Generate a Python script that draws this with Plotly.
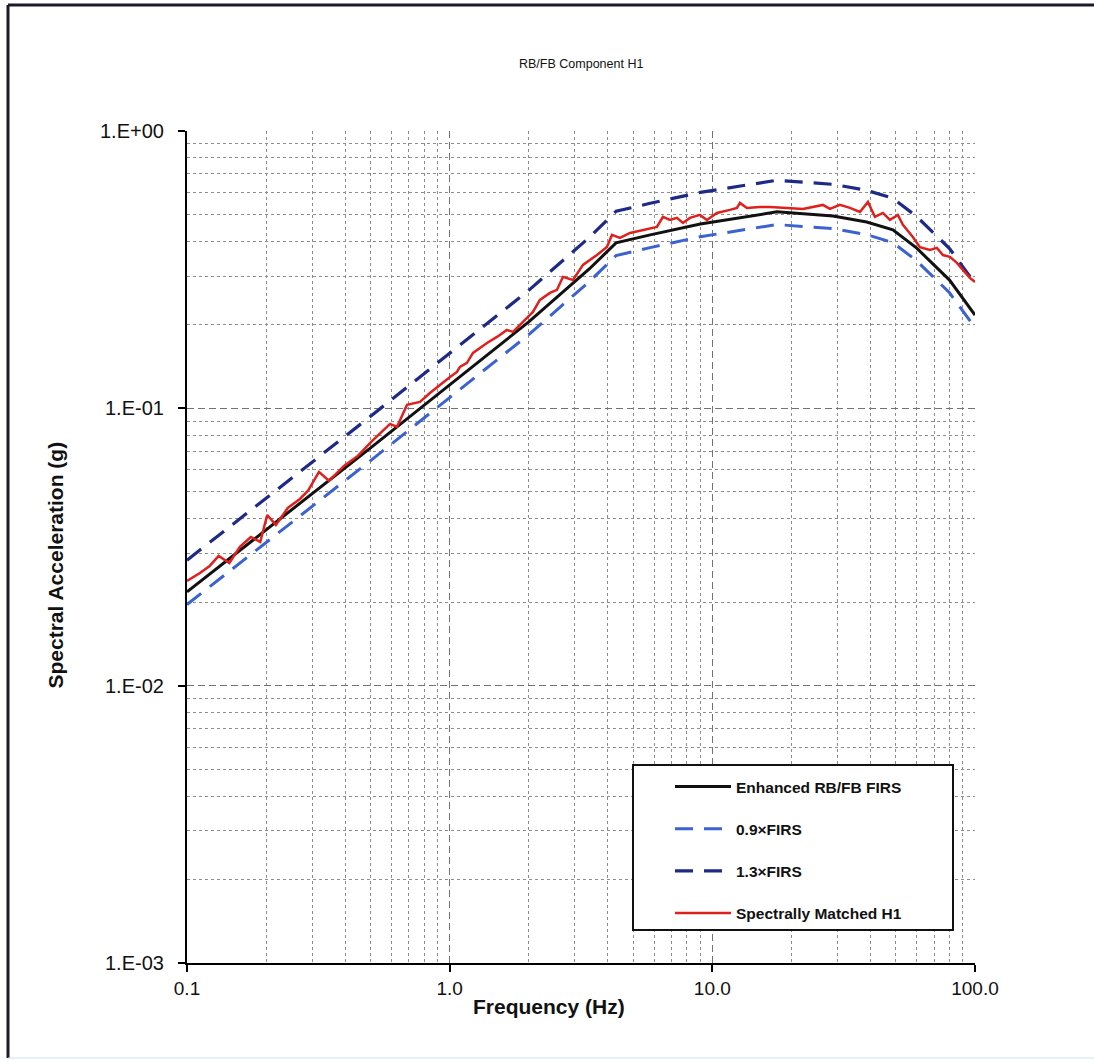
import math
import plotly.graph_objects as go

# Enhanced RB/FB FIRS (g) vs frequency (Hz)
firs_freq = [0.1, 0.2, 0.3, 0.5, 1.0, 2.0, 3.4, 4.3, 5.8, 9.0, 17.6, 28.8,
             38.7, 48.7, 60.0, 80.0, 100.0]
firs_sa = [0.0218, 0.0364, 0.0491, 0.0720, 0.1215, 0.2049, 0.318, 0.395,
           0.422, 0.462, 0.511, 0.494, 0.470, 0.440, 0.378, 0.290, 0.217]

# Spectrally matched H1 response spectrum
h1_freq = [0.100, 0.112, 0.122, 0.132, 0.145, 0.159, 0.175, 0.190, 0.202,
           0.218, 0.242, 0.269, 0.289, 0.318, 0.347, 0.396, 0.448, 0.506,
           0.593, 0.630, 0.688, 0.771, 0.841, 0.895, 0.943, 1.003, 1.066,
           1.094, 1.164, 1.227, 1.387, 1.514, 1.652, 1.742, 1.969, 2.075,
           2.206, 2.409, 2.561, 2.699, 2.948, 3.217, 3.637, 3.970, 4.148,
           4.450, 4.859, 5.444, 6.153, 6.486, 6.896, 7.332, 7.728, 8.216,
           8.972, 9.537, 10.41, 11.67, 12.41, 12.74, 13.54, 15.18, 16.57,
           19.23, 22.13, 26.36, 28.03, 30.60, 33.41, 36.47, 39.12, 41.59,
           44.61, 47.44, 50.87, 53.15, 58.00, 61.71, 67.35, 71.61, 75.47,
           80.24, 85.33, 89.94, 95.63, 100.0]
h1_sa = [0.02385, 0.02549, 0.02702, 0.02935, 0.02770, 0.03164, 0.03437,
         0.03298, 0.04126, 0.03798, 0.04373, 0.04713, 0.0505, 0.0590,
         0.0548, 0.0620, 0.0675, 0.0762, 0.08785, 0.08569, 0.1029,
         0.1055, 0.1136, 0.1194, 0.1235, 0.1298, 0.1353, 0.1410, 0.1458,
         0.1584, 0.1721, 0.1809, 0.1917, 0.1886, 0.2118, 0.2226, 0.2459,
         0.2607, 0.2673, 0.2978, 0.2904, 0.3289, 0.3574, 0.3819, 0.4219,
         0.4115, 0.4290, 0.4398, 0.4510, 0.4900, 0.4780, 0.4860, 0.4662,
         0.4860, 0.4982, 0.4780, 0.5065, 0.5194, 0.5281, 0.5504, 0.5281,
         0.5325, 0.5325, 0.5281, 0.5237, 0.5414, 0.5237, 0.5414, 0.5281,
         0.5108, 0.5550, 0.4900, 0.5065, 0.4780, 0.4982, 0.4585, 0.4150,
         0.3810, 0.3725, 0.3789, 0.3570, 0.3516, 0.3345, 0.3156, 0.2953,
         0.2857]

lower_factor = 0.9
upper_factor = 1.3

x_tickvals = [0.1, 1.0, 10.0, 100.0]
x_ticktext = ["0.1", "1.0", "10.0", "100.0"]
y_tickvals = [0.001, 0.01, 0.1, 1.0]
y_ticktext = ["1.E-03", "1.E-02", "1.E-01", "1.E+00"]

minor_x = [m * 10.0 ** e for e in range(-1, 2) for m in range(2, 10)]
minor_y = [m * 10.0 ** e for e in range(-3, 0) for m in range(2, 10)]

FONT = "Liberation Sans, Arial, sans-serif"

fig = go.Figure()
fig.add_trace(go.Scatter(
    x=firs_freq, y=firs_sa, mode="lines", name="Enhanced RB/FB FIRS",
    legendgroup="a", line=dict(color="#111111", width=3)))
fig.add_trace(go.Scatter(
    x=firs_freq, y=[lower_factor * v for v in firs_sa], mode="lines",
    name="0.9\u00d7FIRS", legendgroup="b",
    line=dict(color="#3b63d0", width=3, dash="18px,11px")))
fig.add_trace(go.Scatter(
    x=firs_freq, y=[upper_factor * v for v in firs_sa], mode="lines",
    name="1.3\u00d7FIRS", legendgroup="c",
    line=dict(color="#1d2a86", width=3.2, dash="18px,11px")))
fig.add_trace(go.Scatter(
    x=h1_freq, y=h1_sa, mode="lines", name="Spectrally Matched H1",
    legendgroup="d", line=dict(color="#e0201c", width=2.5)))

axis_common = dict(
    type="log",
    showline=True, linecolor="#000000", linewidth=2,
    ticks="outside", ticklen=7, tickwidth=2, tickcolor="#000000",
    showgrid=True, gridcolor="#737373", gridwidth=1, griddash="7px,4px",
    zeroline=False,
    tickfont=dict(family=FONT, size=19, color="#111111"),
)

fig.update_xaxes(
    **axis_common, range=[-1, 2],
    tickvals=x_tickvals, ticktext=x_ticktext,
    minor=dict(tickvals=minor_x, showgrid=True, gridcolor="#8e8e8e",
               griddash="dot", gridwidth=1, ticks=""),
)
# y tick labels are placed as annotations further out from the axis
fig.update_yaxes(
    **axis_common, range=[-3, 0],
    tickvals=y_tickvals, showticklabels=False,
    minor=dict(tickvals=minor_y, showgrid=True, gridcolor="#8e8e8e",
               griddash="dot", gridwidth=1, ticks=""),
)

L, R, T, B = 187, 975, 131, 963
W, H = 1094, 1062


def px_x(p):
    return (p - L) / (R - L)


def px_y(p):
    return (B - p) / (B - T)


y_label_annotations = [
    dict(text=txt, xref="paper", yref="y", x=px_x(166),
         y=math.log10(val), xanchor="right", yanchor="middle",
         showarrow=False,
         font=dict(family=FONT, size=20, color="#111111"))
    for val, txt in zip(y_tickvals, y_ticktext)
]

fig.update_layout(
    width=W, height=H,
    margin=dict(l=L, r=W - R, t=T, b=H - B, autoexpand=False),
    paper_bgcolor="#ffffff", plot_bgcolor="#ffffff",
    showlegend=True,
    legend=dict(
        x=px_x(670), y=px_y(770), xanchor="left", yanchor="top",
        bgcolor="rgba(0,0,0,0)", borderwidth=0,
        font=dict(family=FONT, size=15.5, color="#111111", weight="bold"),
        tracegroupgap=19, itemwidth=56,
    ),
    annotations=[
        dict(text="RB/FB Component H1", xref="paper", yref="paper",
             x=0.5, y=px_y(55), showarrow=False,
             font=dict(family=FONT, size=12.5, color="#111111")),
        dict(text="<b>Frequency (Hz)</b>", xref="paper", yref="paper",
             x=px_x(549), y=px_y(1020), showarrow=False,
             font=dict(family=FONT, size=21, color="#111111")),
        dict(text="<b>Spectral Acceleration (g)</b>", xref="paper",
             yref="paper", x=px_x(41), y=px_y(565), showarrow=False,
             textangle=-90,
             font=dict(family=FONT, size=21, color="#111111")),
    ] + y_label_annotations,
    shapes=[
        # legend frame
        dict(type="rect", xref="paper", yref="paper", layer="above",
             x0=px_x(633), x1=px_x(953), y0=px_y(930), y1=px_y(765),
             fillcolor="#ffffff", line=dict(color="#111111", width=2)),
        # outer chart border
        dict(type="line", xref="paper", yref="paper",
             x0=px_x(8), x1=px_x(1100), y0=px_y(5), y1=px_y(5),
             line=dict(color="#1a1a2a", width=3)),
        dict(type="line", xref="paper", yref="paper",
             x0=px_x(8), x1=px_x(8), y0=px_y(5), y1=px_y(1058),
             line=dict(color="#1a1a2a", width=3)),
        dict(type="line", xref="paper", yref="paper",
             x0=px_x(8), x1=px_x(1100), y0=px_y(1058), y1=px_y(1058),
             line=dict(color="#cfe3e8", width=1)),
    ],
)

fig.write_html("out.html")
